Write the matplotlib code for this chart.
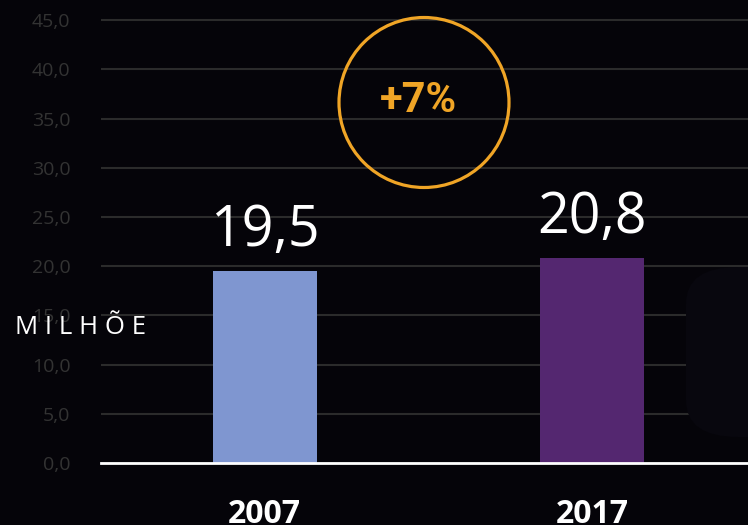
import matplotlib
matplotlib.use("Agg")
import matplotlib.pyplot as plt
from matplotlib.patches import Ellipse, FancyBboxPatch
from matplotlib.ticker import FuncFormatter

categories = ["2007", "2017"]
values = [19.5, 20.8]
value_labels = ["19,5", "20,8"]
bar_colors = ["#7F96D0", "#542770"]
y_ticks = [0, 5, 10, 15, 20, 25, 30, 35, 40, 45]
growth_label = "+7%"
unit_label = "M I L H Õ E"

BG = "#050409"
W, H = 748, 525
fig = plt.figure(figsize=(W / 100, H / 100), dpi=100, facecolor=BG)

# faint background shape on right
fig.patches.append(FancyBboxPatch((686 / W, 88 / H), 130 / W, 170 / H,
                                  boxstyle="round,pad=0,rounding_size=0.07",
                                  transform=fig.transFigure, facecolor="#08070e",
                                  edgecolor="none", zorder=0))

ax = fig.add_axes([101 / W, 62 / H, 655 / W, 462.5 / H])
ax.set_facecolor("none")
x = list(range(len(categories)))
bars = ax.bar(x, values, width=0.318, color=bar_colors, zorder=3)
ax.set_xlim(-0.5, 1.5)
ax.set_ylim(0, 47)
ax.set_yticks(y_ticks)
ax.yaxis.set_major_formatter(FuncFormatter(lambda v, p: f"{v:.1f}".replace(".", ",")))
ax.grid(axis="y", color="#2b2b2b", linewidth=1.5, zorder=0)
for s in ["top", "right", "left"]:
    ax.spines[s].set_visible(False)
ax.spines["bottom"].set_color("white")
ax.spines["bottom"].set_linewidth(2)
ax.spines["bottom"].set_zorder(4)
ax.tick_params(axis="y", length=0, pad=22, labelcolor="#333333", labelsize=14)
for t in ax.get_yticklabels():
    t.set_fontfamily("Open Sans")
ax.set_xticks(x)
ax.set_xticklabels(categories, fontfamily="Open Sans", fontweight="bold",
                   fontsize=23, color="white")
ax.tick_params(axis="x", length=0, pad=25)

for xi, v, lab in zip(x, values, value_labels):
    ax.annotate(lab, (xi, v), xytext=(0, 18), textcoords="offset points",
                ha="center", va="baseline", color="white", fontsize=40,
                fontfamily="Open Sans")

# growth circle
r = 85
fig.patches.append(Ellipse((424 / W, 1 - 102.5 / H), 2 * r / W, 2 * r / H,
                           transform=fig.transFigure, facecolor="none",
                           edgecolor="#F0A526", linewidth=2.3, zorder=5))
fig.text(418 / W, 1 - 100 / H, growth_label, color="#F0A526", fontsize=30,
         fontweight="bold", family="Roboto",
         ha="center", va="center", zorder=6)

fig.text(15 / W, 1 - 327 / H, unit_label, color="white", fontsize=18.5,
         fontfamily="Open Sans", ha="left", va="center", zorder=6)

fig.savefig("out.png", dpi=100, facecolor=BG)
